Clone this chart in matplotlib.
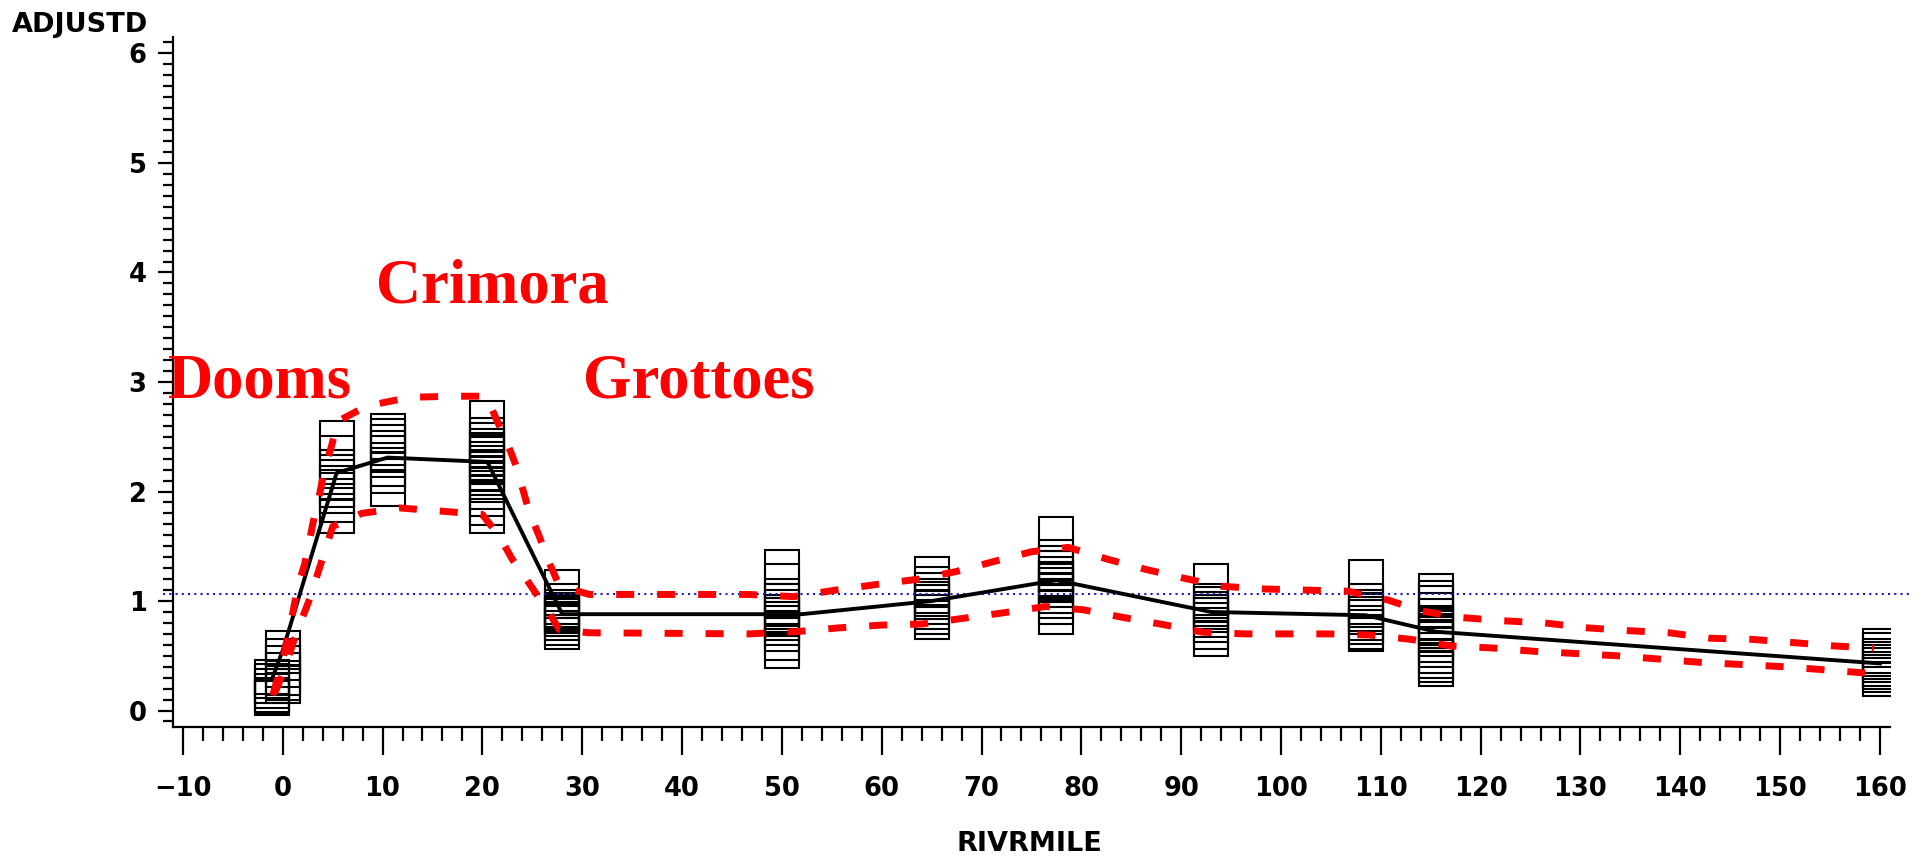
import matplotlib.pyplot as plt
from matplotlib.ticker import MultipleLocator

# sampling sites (river mile) and the ADJUSTD values read at each one
site_miles = [-1.1, 0.0, 5.4, 10.5, 20.5, 28.0, 50.0, 65.0, 77.5, 93.0, 108.5, 115.5, 160.0]
site_values = [
    [0.31, 0.27, 0.22, 0.18, 0.14, 0.12, 0.11],
    [0.57, 0.50, 0.43, 0.37, 0.30, 0.25, 0.22],
    [2.49, 2.35, 2.22, 2.13, 2.08, 2.01, 1.96, 1.88, 1.78],
    [2.55, 2.51, 2.45, 2.40, 2.35, 2.29, 2.21, 2.14, 2.02],
    [2.67, 2.52, 2.47, 2.42, 2.38, 2.34, 2.30, 2.26, 2.22, 2.17, 2.12, 2.06, 2.00, 1.93, 1.85, 1.78],
    [1.13, 1.00, 0.95, 0.92, 0.90, 0.88, 0.86, 0.84, 0.80, 0.75, 0.72],
    [1.31, 1.18, 1.05, 1.00, 0.95, 0.90, 0.87, 0.84, 0.80, 0.75, 0.70, 0.62, 0.54],
    [1.245, 1.16, 1.10, 1.05, 1.02, 0.99, 0.95, 0.90, 0.85, 0.81],
    [1.61, 1.40, 1.35, 1.30, 1.25, 1.20, 1.18, 1.15, 1.10, 1.05, 1.00, 0.95, 0.85],
    [1.18, 1.00, 0.97, 0.93, 0.90, 0.87, 0.83, 0.78, 0.72, 0.65],
    [1.22, 1.00, 0.95, 0.92, 0.88, 0.85, 0.80, 0.76, 0.72, 0.70],
    [1.09, 1.03, 0.98, 0.92, 0.86, 0.80, 0.77, 0.75, 0.73, 0.70, 0.65, 0.60, 0.55, 0.50, 0.45, 0.42, 0.38],
    [0.59, 0.55, 0.50, 0.47, 0.44, 0.42, 0.38, 0.35, 0.32, 0.29],
]

# mean line
mean_miles = [-1.1, 0.0, 5.4, 10.5, 20.5, 28.0, 52.0, 65.0, 77.5, 93.0, 108.5, 115.5, 160.0]
mean_vals = [0.28, 0.55, 2.17, 2.31, 2.27, 0.88, 0.88, 1.00, 1.19, 0.90, 0.87, 0.72, 0.43]

# upper / lower band (red dashed)
upper_miles = [-1.0, 0.0, 1.0, 1.5, 2.2, 2.7, 3.2, 3.7, 4.2, 4.9, 5.5, 8.4, 12.7, 17.0, 20.4,
               21.4, 22.5, 23.4, 24.7, 25.7, 26.7, 27.7, 30.7, 46.7, 51.2, 55.4, 59.4, 63.7,
               67.5, 71.2, 75.0, 78.7, 82.7, 86.4, 90.2, 94.0, 98.4, 102.4, 106.7, 110.7,
               114.0, 118.0, 122.2, 126.4, 130.7, 134.7, 138.9, 143.0, 147.2, 151.4, 155.4, 159.4]
upper_vals = [0.14, 0.46, 0.89, 1.13, 1.34, 1.56, 1.79, 1.98, 2.21, 2.42, 2.64, 2.78, 2.86, 2.87, 2.87,
              2.66, 2.44, 2.23, 1.81, 1.59, 1.35, 1.14, 1.06, 1.06, 1.04, 1.10, 1.15, 1.20,
              1.27, 1.36, 1.45, 1.49, 1.38, 1.29, 1.21, 1.135, 1.11, 1.10, 1.09, 1.01,
              0.91, 0.85, 0.82, 0.80, 0.755, 0.73, 0.71, 0.66, 0.65, 0.62, 0.59, 0.57]
lower_miles = [-0.8, 0.3, 1.0, 1.9, 2.7, 3.5, 4.2, 5.0, 7.9, 11.7, 16.0, 20.0, 21.7, 23.0,
               24.4, 26.7, 27.7, 30.7, 46.7, 51.4, 55.7, 59.9, 64.0, 68.0, 72.0, 76.4, 80.2,
               84.2, 88.2, 92.2, 96.4, 100.5, 104.7, 108.9, 113.0, 117.0, 121.4, 125.5, 129.7,
               133.7, 137.9, 142.0, 146.2, 150.4, 154.7, 158.9]
lower_vals = [0.16, 0.40, 0.61, 0.83, 1.02, 1.25, 1.45, 1.68, 1.80, 1.85, 1.82, 1.79, 1.59, 1.38,
              1.20, 0.89, 0.74, 0.71, 0.70, 0.72, 0.755, 0.78, 0.79, 0.84, 0.89, 0.95, 0.92,
              0.85, 0.785, 0.715, 0.70, 0.70, 0.70, 0.69, 0.65, 0.59, 0.57, 0.54, 0.52,
              0.50, 0.47, 0.44, 0.42, 0.40, 0.37, 0.34]

ref_level = 1.06

place_names = ["Dooms", "Crimora", "Grottoes"]
place_x = [-11.5, 9.3, 30.1]
place_y = [2.86, 3.73, 2.86]

fig = plt.figure(figsize=(19.15, 8.59), dpi=100)
ax = fig.add_axes([0.0903, 0.1537, 0.8966, 0.8032])

for mile, vals in zip(site_miles, site_values):
    ax.plot([mile] * len(vals), vals, linestyle='none', marker='s', markersize=24,
            markerfacecolor='none', markeredgecolor='black', markeredgewidth=1.5, zorder=2)

# reference level, drawn a little past both ends of the axis like the original
ax.plot([-12, 163.2], [ref_level, ref_level], color='#1a1acd', linestyle=(0, (1, 2)),
        linewidth=1.5, zorder=3, clip_on=False)
ax.plot(mean_miles, mean_vals, color='black', linewidth=2.8, zorder=4)
ax.plot(upper_miles, upper_vals, color='#ff0000', linewidth=5, linestyle=(0, (2.6, 3.3)), zorder=5)
ax.plot(lower_miles, lower_vals, color='#ff0000', linewidth=5, linestyle=(0, (2.6, 3.3)), zorder=5)

for name, px, py in zip(place_names, place_x, place_y):
    ax.text(px, py, name, color='#ff0000', fontsize=45, fontweight='bold',
            family='Liberation Serif', ha='left', va='baseline', zorder=6, clip_on=False)

ax.set_xlim(-11, 161)
ax.set_ylim(-0.15, 6.15)
ax.xaxis.set_major_locator(MultipleLocator(10))
ax.xaxis.set_minor_locator(MultipleLocator(2))
ax.yaxis.set_major_locator(MultipleLocator(1))
ax.yaxis.set_minor_locator(MultipleLocator(0.1))

for side in ['top', 'right']:
    ax.spines[side].set_visible(False)
for side in ['left', 'bottom']:
    ax.spines[side].set_linewidth(1.6)

ax.tick_params(axis='x', which='major', length=20, width=1.6, pad=15, labelsize=18.5)
ax.tick_params(axis='x', which='minor', length=10, width=1.6)
ax.tick_params(axis='y', which='major', length=11, width=1.6, pad=8, labelsize=18.5)
ax.tick_params(axis='y', which='minor', length=7, width=1.6)
for lab in ax.get_xticklabels() + ax.get_yticklabels():
    lab.set_fontweight('bold')

fig.text(0.042, 0.971, "ADJUSTD", fontsize=19.5, fontweight='bold', ha='center', va='center')
fig.text(0.5376, 0.0175, "RIVRMILE", fontsize=19.5, fontweight='bold', ha='center', va='center')

fig.savefig("out.png", dpi=100)
